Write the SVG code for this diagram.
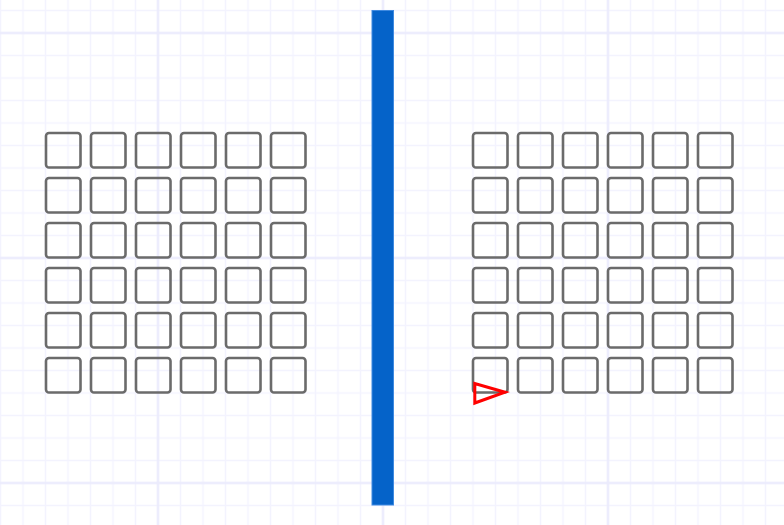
<svg xmlns="http://www.w3.org/2000/svg" xmlns:xlink="http://www.w3.org/1999/xlink" width="784" height="525" viewBox="0 0 784 525">
<style>
.cell{fill:none;stroke:#6b6b6b;stroke-width:2.6}
.bar{fill:#0563c9;stroke:#3f8ae0;stroke-width:1}
.mark{fill:none;stroke:#ff0000;stroke-width:3;stroke-linejoin:miter}
</style>
<defs>
<pattern id="minor" patternUnits="userSpaceOnUse" x="-10.75" y="-0.75" width="22.5" height="22.5">
<path d="M11.25 0V22.5M0 11.25H22.5" stroke="#f3f3fe" stroke-width="1.5" fill="none"/>
</pattern>
<pattern id="major" patternUnits="userSpaceOnUse" x="45.5" y="-79.5" width="225" height="225">
<path d="M112.5 0V225M0 112.5H225" stroke="#eaeafc" stroke-width="2" fill="none"/>
</pattern>
<rect id="sq" class="cell" width="34.5" height="34.5" rx="3"/>
</defs>
<rect width="784" height="525" fill="#ffffff"/>
<rect width="784" height="525" fill="url(#minor)"/>
<rect width="784" height="525" fill="url(#major)"/>
<g id="left-array">
<g id="L1-1"><use href="#sq" x="46" y="133"/></g><g id="L1-2"><use href="#sq" x="91" y="133"/></g><g id="L1-3"><use href="#sq" x="136" y="133"/></g><g id="L1-4"><use href="#sq" x="181" y="133"/></g><g id="L1-5"><use href="#sq" x="226" y="133"/></g><g id="L1-6"><use href="#sq" x="271" y="133"/></g>
<g id="L2-1"><use href="#sq" x="46" y="178"/></g><g id="L2-2"><use href="#sq" x="91" y="178"/></g><g id="L2-3"><use href="#sq" x="136" y="178"/></g><g id="L2-4"><use href="#sq" x="181" y="178"/></g><g id="L2-5"><use href="#sq" x="226" y="178"/></g><g id="L2-6"><use href="#sq" x="271" y="178"/></g>
<g id="L3-1"><use href="#sq" x="46" y="223"/></g><g id="L3-2"><use href="#sq" x="91" y="223"/></g><g id="L3-3"><use href="#sq" x="136" y="223"/></g><g id="L3-4"><use href="#sq" x="181" y="223"/></g><g id="L3-5"><use href="#sq" x="226" y="223"/></g><g id="L3-6"><use href="#sq" x="271" y="223"/></g>
<g id="L4-1"><use href="#sq" x="46" y="268"/></g><g id="L4-2"><use href="#sq" x="91" y="268"/></g><g id="L4-3"><use href="#sq" x="136" y="268"/></g><g id="L4-4"><use href="#sq" x="181" y="268"/></g><g id="L4-5"><use href="#sq" x="226" y="268"/></g><g id="L4-6"><use href="#sq" x="271" y="268"/></g>
<g id="L5-1"><use href="#sq" x="46" y="313"/></g><g id="L5-2"><use href="#sq" x="91" y="313"/></g><g id="L5-3"><use href="#sq" x="136" y="313"/></g><g id="L5-4"><use href="#sq" x="181" y="313"/></g><g id="L5-5"><use href="#sq" x="226" y="313"/></g><g id="L5-6"><use href="#sq" x="271" y="313"/></g>
<g id="L6-1"><use href="#sq" x="46" y="358"/></g><g id="L6-2"><use href="#sq" x="91" y="358"/></g><g id="L6-3"><use href="#sq" x="136" y="358"/></g><g id="L6-4"><use href="#sq" x="181" y="358"/></g><g id="L6-5"><use href="#sq" x="226" y="358"/></g><g id="L6-6"><use href="#sq" x="271" y="358"/></g>
</g>
<g id="divider"><rect class="bar" x="372" y="10.5" width="21.5" height="494.5"/></g>
<g id="right-array">
<g id="R1-1"><use href="#sq" x="473" y="133"/></g><g id="R1-2"><use href="#sq" x="518" y="133"/></g><g id="R1-3"><use href="#sq" x="563" y="133"/></g><g id="R1-4"><use href="#sq" x="608" y="133"/></g><g id="R1-5"><use href="#sq" x="653" y="133"/></g><g id="R1-6"><use href="#sq" x="698" y="133"/></g>
<g id="R2-1"><use href="#sq" x="473" y="178"/></g><g id="R2-2"><use href="#sq" x="518" y="178"/></g><g id="R2-3"><use href="#sq" x="563" y="178"/></g><g id="R2-4"><use href="#sq" x="608" y="178"/></g><g id="R2-5"><use href="#sq" x="653" y="178"/></g><g id="R2-6"><use href="#sq" x="698" y="178"/></g>
<g id="R3-1"><use href="#sq" x="473" y="223"/></g><g id="R3-2"><use href="#sq" x="518" y="223"/></g><g id="R3-3"><use href="#sq" x="563" y="223"/></g><g id="R3-4"><use href="#sq" x="608" y="223"/></g><g id="R3-5"><use href="#sq" x="653" y="223"/></g><g id="R3-6"><use href="#sq" x="698" y="223"/></g>
<g id="R4-1"><use href="#sq" x="473" y="268"/></g><g id="R4-2"><use href="#sq" x="518" y="268"/></g><g id="R4-3"><use href="#sq" x="563" y="268"/></g><g id="R4-4"><use href="#sq" x="608" y="268"/></g><g id="R4-5"><use href="#sq" x="653" y="268"/></g><g id="R4-6"><use href="#sq" x="698" y="268"/></g>
<g id="R5-1"><use href="#sq" x="473" y="313"/></g><g id="R5-2"><use href="#sq" x="518" y="313"/></g><g id="R5-3"><use href="#sq" x="563" y="313"/></g><g id="R5-4"><use href="#sq" x="608" y="313"/></g><g id="R5-5"><use href="#sq" x="653" y="313"/></g><g id="R5-6"><use href="#sq" x="698" y="313"/></g>
<g id="R6-1"><use href="#sq" x="473" y="358"/></g><g id="R6-2"><use href="#sq" x="518" y="358"/></g><g id="R6-3"><use href="#sq" x="563" y="358"/></g><g id="R6-4"><use href="#sq" x="608" y="358"/></g><g id="R6-5"><use href="#sq" x="653" y="358"/></g><g id="R6-6"><use href="#sq" x="698" y="358"/></g>
</g>
<g id="marker-triangle"><polygon class="mark" points="474.8,383.5 474.8,403 505,392.2"/></g>
<g id="connectors"></g>
</svg>
